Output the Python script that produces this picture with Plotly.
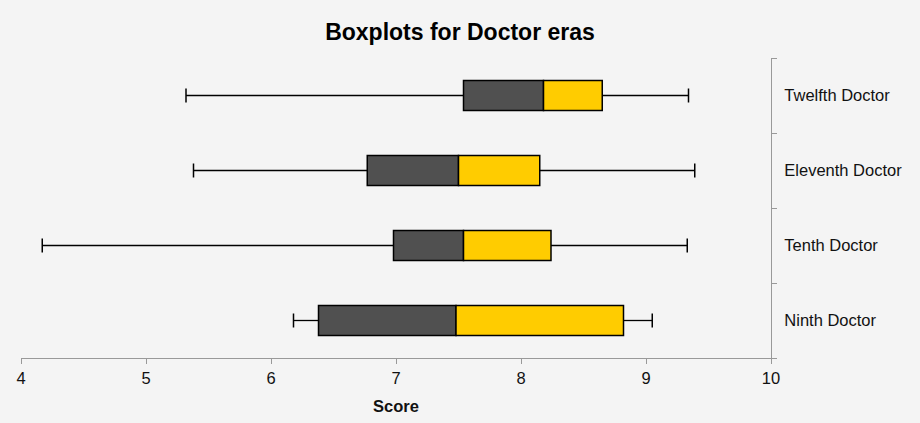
import plotly.graph_objects as go

doctors = ["Ninth Doctor", "Tenth Doctor", "Eleventh Doctor", "Twelfth Doctor"]
whisker_low = [6.18, 4.17, 5.38, 5.32]
q1 = [6.38, 6.98, 6.77, 7.54]
median = [7.48, 7.54, 7.50, 8.18]
q3 = [8.82, 8.24, 8.15, 8.65]
whisker_high = [9.05, 9.33, 9.39, 9.34]

x_ticks = [4, 5, 6, 7, 8, 9, 10]

fig = go.Figure()

# Lower half (Q1 -> median)
fig.add_trace(go.Bar(
    y=doctors, x=[m - a for m, a in zip(median, q1)], base=q1,
    orientation="h", width=0.4,
    marker=dict(color="#505050", line=dict(color="#000000", width=1.5)),
    showlegend=False, hoverinfo="skip"))
# Upper half (median -> Q3)
fig.add_trace(go.Bar(
    y=doctors, x=[b - m for b, m in zip(q3, median)], base=median,
    orientation="h", width=0.4,
    marker=dict(color="#FFCC00", line=dict(color="#000000", width=1.5)),
    showlegend=False, hoverinfo="skip"))

# Whiskers
wx, wy = [], []
for d, lo, a, b, hi in zip(doctors, whisker_low, q1, q3, whisker_high):
    wx += [lo, a, None, b, hi, None]
    wy += [d, d, None, d, d, None]
fig.add_trace(go.Scatter(x=wx, y=wy, mode="lines",
                         line=dict(color="#000000", width=1.3),
                         showlegend=False, hoverinfo="skip"))
# Caps
cx, cy = [], []
for d, lo, hi in zip(doctors, whisker_low, whisker_high):
    cx += [lo, hi]
    cy += [d, d]
fig.add_trace(go.Scatter(x=cx, y=cy, mode="markers",
                         marker=dict(symbol="line-ns", size=10,
                                     line=dict(color="#000000", width=1.5)),
                         showlegend=False, hoverinfo="skip"))

fig.update_layout(
    width=920, height=423,
    paper_bgcolor="#f4f4f4", plot_bgcolor="#f4f4f4",
    margin=dict(l=21, r=149, t=58, b=65),
    barmode="overlay",
    font=dict(family="Liberation Sans, Arial, sans-serif", size=16.5, color="#111111"),
    title=dict(text="<b>Boxplots for Doctor eras</b>", x=0.5, xanchor="center",
               y=0.925, yanchor="middle", xref="container",
               font=dict(size=23, color="#000000")),
    xaxis=dict(range=[4, 10], tickvals=x_ticks, ticktext=[str(t) for t in x_ticks],
               showgrid=False, zeroline=False, showline=True, linecolor="#999999",
               linewidth=1, ticks="outside", ticklen=5, tickcolor="#999999",
               title=dict(text="<b>Score</b>", font=dict(size=16.5), standoff=14)),
    yaxis=dict(type="category", categoryorder="array", categoryarray=doctors,
               range=[-0.5, 3.5], side="right", showgrid=False, zeroline=False,
               showline=True, linecolor="#999999", linewidth=1,
               ticks="outside", ticklen=5, tickcolor="#999999",
               tickson="boundaries", ticklabelstandoff=9),
)

fig.write_html("out.html", config={"displayModeBar": False},
               post_script="document.body.style.margin='0';document.body.style.padding='0';document.body.style.background='#f4f4f4';")
